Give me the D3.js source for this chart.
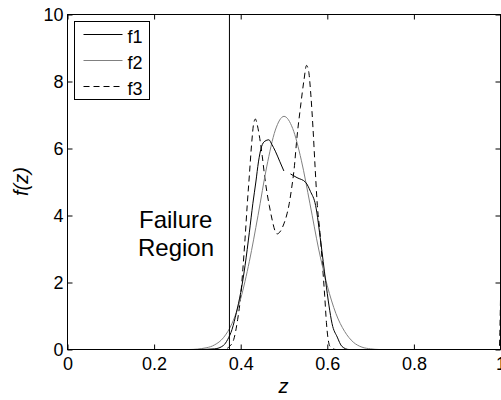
<!DOCTYPE html>
<html>
<head>
<meta charset="utf-8">
<script src="https://cdn.jsdelivr.net/npm/d3@7"></script>
<style>
  html, body { margin: 0; padding: 0; background: #fff; }
  svg { display: block; }
  text { font-family: Arial, "Liberation Sans", sans-serif; }
</style>
</head>
<body>
<svg id="chart" width="501" height="400"></svg>
<script>
// Density estimates f(z) for three cases, as [z, f] pairs.
const f1Left = [
  [0, 0], [0.30, 0], [0.34, 0.02], [0.36, 0.12], [0.37, 0.3], [0.38, 0.6], [0.39, 1.1],
  [0.40, 1.7], [0.41, 2.5], [0.42, 3.5], [0.428, 4.35], [0.435, 5.0], [0.441, 5.6],
  [0.448, 6.05], [0.456, 6.22], [0.465, 6.26], [0.472, 6.12], [0.48, 5.92],
  [0.49, 5.62], [0.4997, 5.33]
];
const f1Right = [
  [0.515, 5.24], [0.53, 5.13], [0.55, 4.99], [0.561, 4.72], [0.573, 4.3],
  [0.585, 3.2], [0.596, 2.06], [0.604, 1.3], [0.611, 0.77], [0.623, 0.37],
  [0.634, 0.09], [0.65, 0], [1, 0]
];
const f2Pts = [
  [0, 0], [0.28, 0], [0.32, 0.05], [0.34, 0.14], [0.36, 0.35], [0.38, 0.78],
  [0.40, 1.52], [0.42, 2.63], [0.44, 4.0], [0.46, 5.45], [0.48, 6.55], [0.50, 6.96],
  [0.52, 6.6], [0.54, 5.65], [0.56, 4.35], [0.58, 3.0], [0.60, 1.9], [0.62, 1.07],
  [0.64, 0.54], [0.66, 0.22], [0.68, 0.07], [0.70, 0.02], [0.72, 0], [1, 0]
];
const f3Pts = [
  [0, 0], [0.36, 0], [0.375, 0.1], [0.385, 0.35], [0.393, 0.9], [0.40, 1.6],
  [0.405, 2.4], [0.41, 3.3], [0.415, 4.3], [0.42, 5.2], [0.425, 6.1], [0.43, 6.75],
  [0.434, 6.88], [0.438, 6.72], [0.444, 6.3], [0.45, 5.75], [0.455, 5.2],
  [0.461, 4.66], [0.466, 4.3], [0.473, 3.85], [0.479, 3.55], [0.484, 3.45],
  [0.49, 3.5], [0.4997, 3.75], [0.507, 4.05], [0.512, 4.35], [0.518, 4.85],
  [0.523, 5.34], [0.530, 6.34], [0.538, 7.23], [0.546, 8.03], [0.552, 8.48],
  [0.557, 8.3], [0.562, 7.6], [0.567, 6.6], [0.572, 5.4], [0.577, 4.3],
  [0.583, 3.5], [0.589, 2.5], [0.594, 1.6], [0.598, 0.8], [0.602, 0.3],
  [0.606, 0.1], [0.62, 0], [0.997, 0], [1, 1.5]
];

// Boundary of the failure region on the z axis.
const failureLimit = 0.374;

const xTicks = [0, 0.2, 0.4, 0.6, 0.8, 1];
const yTicks = [0, 2, 4, 6, 8, 10];
const xTickLabels = ["0", "0.2", "0.4", "0.6", "0.8", "1"];
const yTickLabels = ["0", "2", "4", "6", "8", "10"];

const seriesNames = ["f1", "f2", "f3"];

const svg = d3.select("#chart");
const g = svg.append("g").attr("transform", "translate(0.5,0.5)");

const x = d3.scaleLinear().domain([0, 1]).range([67, 500]);
const y = d3.scaleLinear().domain([0, 10]).range([349, 14]);

const styles = {
  f1: { stroke: "#000", dash: null },
  f2: { stroke: "#808080", dash: null },
  f3: { stroke: "#000", dash: "6,4" }
};

// Clip curves to the axes box
svg.append("defs").append("clipPath").attr("id", "plotClip")
  .append("rect").attr("x", 66).attr("y", 13).attr("width", 436).attr("height", 338);

const line = d3.line()
  .x(d => x(d[0]))
  .y(d => y(d[1]))
  .curve(d3.curveMonotoneX);

const curves = g.append("g").attr("clip-path", "url(#plotClip)");

function drawCurve(pts, key) {
  curves.append("path")
    .datum(pts)
    .attr("d", line)
    .attr("fill", "none")
    .attr("stroke", styles[key].stroke)
    .attr("stroke-width", 1)
    .attr("stroke-dasharray", styles[key].dash);
}

drawCurve(f3Pts, "f3");
drawCurve(f2Pts, "f2");
drawCurve(f1Left, "f1");
drawCurve(f1Right, "f1");

// Failure-region boundary
g.append("line")
  .attr("x1", x(failureLimit)).attr("x2", x(failureLimit))
  .attr("y1", y(10)).attr("y2", y(0))
  .attr("stroke", "#000").attr("stroke-width", 1);

// Axes with inward ticks on all four sides
const axisFont = 18;
const axBottom = g.append("g").attr("transform", `translate(0,${y(0)})`)
  .call(d3.axisBottom(x).tickValues(xTicks).tickFormat((d, i) => xTickLabels[i])
    .tickSizeInner(-5).tickSizeOuter(0).tickPadding(8));
const axLeft = g.append("g").attr("transform", `translate(${x(0)},0)`)
  .call(d3.axisLeft(y).tickValues(yTicks).tickFormat((d, i) => yTickLabels[i])
    .tickSizeInner(-5).tickSizeOuter(0).tickPadding(4));
const axTop = g.append("g").attr("transform", `translate(0,${y(10)})`)
  .call(d3.axisTop(x).tickValues(xTicks).tickFormat("").tickSizeInner(-5).tickSizeOuter(0));
const axRight = g.append("g").attr("transform", `translate(${x(1)},0)`)
  .call(d3.axisRight(y).tickValues(yTicks).tickFormat("").tickSizeInner(-5).tickSizeOuter(0));

[axBottom, axLeft, axTop, axRight].forEach(a => {
  a.select(".domain").remove();
  a.selectAll(".tick line").attr("stroke", "#000");
  a.selectAll("text").attr("font-size", axisFont).attr("fill", "#000")
    .attr("font-family", 'Arial, "Liberation Sans", sans-serif');
});

g.append("rect")
  .attr("x", x(0)).attr("y", y(10))
  .attr("width", x(1) - x(0)).attr("height", y(0) - y(10))
  .attr("fill", "none").attr("stroke", "#000").attr("stroke-width", 1);

// Axis titles
svg.append("text")
  .attr("x", (x(0) + x(1)) / 2).attr("y", 393)
  .attr("text-anchor", "middle").attr("font-size", 20).attr("font-style", "italic")
  .text("z");
svg.append("text")
  .attr("transform", `translate(28,${(y(0) + y(10)) / 2}) rotate(-90)`)
  .attr("text-anchor", "middle").attr("font-size", 20).attr("font-style", "italic")
  .text("f(z)");

// Region annotation
const note = svg.append("text").attr("font-size", 24).attr("fill", "#000");
note.append("tspan").attr("x", 139).attr("y", 228).text("Failure");
note.append("tspan").attr("x", 138).attr("y", 256).text("Region");

// Legend
const legend = g.append("g");
legend.append("rect")
  .attr("x", 74).attr("y", 21).attr("width", 75).attr("height", 78)
  .attr("fill", "#fff").attr("stroke", "#000").attr("stroke-width", 1);
const legendRowY = [34, 60, 86];
seriesNames.forEach((name, i) => {
  legend.append("line")
    .attr("x1", 83).attr("x2", 122)
    .attr("y1", legendRowY[i]).attr("y2", legendRowY[i])
    .attr("stroke", styles[name].stroke).attr("stroke-width", 1)
    .attr("stroke-dasharray", styles[name].dash);
  legend.append("text")
    .attr("x", 127).attr("y", legendRowY[i] + 8.5)
    .attr("font-size", 18).attr("fill", "#000")
    .text(name);
});
</script>
</body>
</html>
